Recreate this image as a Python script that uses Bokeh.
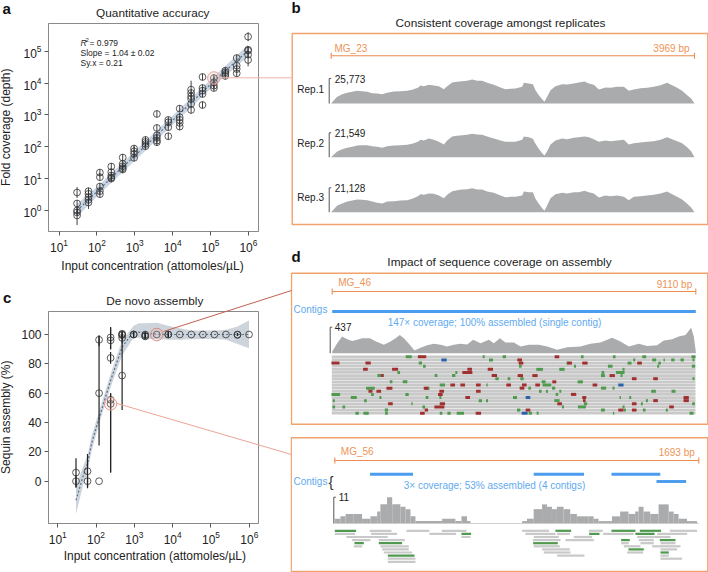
from math import log10, pi
from bokeh.plotting import figure
from bokeh.embed import file_html
from bokeh.resources import INLINE
from bokeh.layouts import row, column
from bokeh.models import Range1d, FixedTicker, Label
from bokeh.core.properties import value

FONT = "Liberation Sans"
CONC = [30, 60, 120, 240, 480, 960, 1920, 3840, 7680, 15360, 30720, 61440, 122880, 245760, 491520, 983040]
X_DECADES = [10, 100, 1000, 10000, 100000, 1000000]

# panel a
a_depth = [[3.67, 1.66, 1.0, 0.87, 0.70], [4.04, 3.33, 2.62, 2.16, 1.78], [15.5, 11.1, 5.65, 4.04, 3.25],
           [24, 16, 12.5, 10.8, 10], [46, 29, 24.5, 21.2, 19.3], [88, 72, 60, 45], [164, 142, 123, 104],
           [1070, 390, 230, 190, 156, 139], [695, 588, 410, 214], [1575, 843, 695, 560, 430],
           [6210, 4885, 3840, 3165, 2207, 1430], [15500, 7000, 5780, 4540, 2050], [14400, 10550, 8300, 7000],
           [24500, 21700, 19200, 16700], [61000, 35100, 27600, 20200], [285000, 111000, 104000, 78000, 53000]]
a_err = [[.17, .11, .11, .11, .3], [.11, .11, .11, .11, .2], [.11, .11, .11, .11, .11],
         [.11, .11, .11, .11, .11], [.11, .11, .11, .11, .11], [.11, .16, .11, .11], [.11, .11, .11, .11],
         [.11, .11, .11, .11, .11, .11], [.11, .11, .11, .11], [.11, .11, .11, .11, .11],
         [.28, .11, .11, .11, .11, .11], [.11, .11, .11, .11, .11], [.11, .18, .11, .11],
         [.11, .11, .11, .11], [.11, .11, .11, .11], [.14, .11, .11, .11, .2]]
a_band_x = [30, 120, 480, 7680, 122880, 983040]
a_mid = [1, 4.8, 23, 500, 11500, 105000]
a_low = [0.62, 3.4, 16, 360, 8200, 68000]
a_up = [1.6, 6.7, 32, 700, 16000, 160000]
a_hl = [122880, 14400]

# panel c
c_pct = [[5.9, 0], [6.8, 0], [96.4, 60, 0], [98, 96, 84, 55.5, 52.7], [100.5, 100, 99.6, 97.7, 72], [100, 100],
         [100, 99, 98.7], [100], [100, 100], [100], [100], [100], [100], [100], [100, 99.7], [100]]
c_lo = [[-4.5, -4], [-4.8, -4], [92, 24.3, 0], [90, 90, 80, 6, 6], [97, 97, 97, 94, 48.6], [98, 98],
        [97, 97, 97], [100], [98, 98], [100], [100], [100], [100], [100], [99, 99], [100]]
c_hi = [[15.7, 4], [18.6, 4], [99.3, 99.3, 0], [105, 105, 88, 60, 60], [102, 102, 102, 100, 100], [102, 102],
        [102, 102, 101], [100], [102, 102], [100], [100], [100], [100], [100], [101, 101], [100]]
c_band_x = [30, 47, 60, 77, 120, 240, 480, 960, 1300, 1920, 3840, 7680, 15360, 30720, 61440, 122880, 245760, 491520, 983040]
c_mid = [-13, 4.3, 12, 26, 43, 68.6, 91.4, 102, 101.6, 101, 100.2, 100, 100, 100, 100, 100, 100, 100, 100]
c_low = [-22.3, -1.8, 6, 21, 39, 64, 85.7, 98, 97.7, 97, 97, 96.4, 96.4, 96.8, 97, 97, 96.4, 93.6, 90.7]
c_up = [-3, 10.7, 17.5, 31, 47.5, 73, 96, 106, 107.7, 107.7, 108, 106, 104.3, 102.7, 102.7, 102.7, 103.2, 105.5, 109.5]
c_hl_full = [3840, 100]
c_hl_part = [240, 52.7]

# panel b
b_bp = [0, 29, 66, 120, 175, 229, 284, 339, 393, 448, 502, 557, 612, 685, 757, 830, 885, 947, 976, 1012,
        1067, 1121, 1176, 1231, 1267, 1322, 1376, 1431, 1486, 1540, 1595, 1649, 1704, 1777, 1850, 1904, 1959, 2013, 2086, 2105,
        2159, 2203, 2232, 2268, 2305, 2330, 2359, 2396, 2450, 2523, 2578, 2651, 2705, 2767, 2815, 2869, 2924, 2997, 3051, 3124,
        3197, 3251, 3306, 3379, 3452, 3524, 3597, 3670, 3725, 3779, 3834, 3889, 3932, 3969]
rep1 = [0, 3440, 6870, 9620, 11000, 12030, 13060, 12710, 12030, 10650, 10310, 9620, 11000, 12370, 12710, 13060, 14090, 16150, 18550, 17870,
        19240, 18550, 17870, 14770, 17870, 21650, 22330, 23020, 23360, 24740, 23360, 23360, 21300, 19240, 16490, 14770, 15120, 15460, 17180, 21300,
        20620, 19930, 13740, 8590, 4470, 1720, 6870, 13740, 17870, 19930, 19590, 20620, 21650, 22680, 20620, 19240, 14430, 16490, 16150, 17180,
        17180, 13060, 14430, 15810, 16150, 17180, 18900, 21300, 18900, 16150, 13060, 8590, 5150, 0]
rep2 = [0, 2360, 5020, 7080, 8260, 9150, 10330, 10620, 10620, 9740, 9150, 8260, 9740, 10330, 10620, 10920, 11800, 13570, 15340, 14750,
        16520, 15340, 13570, 11210, 14750, 18290, 18880, 19470, 19770, 20650, 20060, 19770, 18290, 16520, 14750, 13570, 13570, 13570, 15340, 18290,
        17700, 16230, 11800, 7380, 3540, 1480, 5310, 11210, 14750, 16520, 15930, 17110, 17700, 18290, 17700, 15930, 13570, 14750, 14160, 14750,
        15340, 11210, 12390, 12980, 13570, 14160, 15340, 17700, 15930, 14160, 12390, 8850, 5310, 0]
rep3 = [0, 2600, 5780, 7510, 9250, 10120, 10980, 10690, 10400, 9250, 8090, 7510, 9250, 9540, 10120, 10400, 11560, 13870, 15610, 15030,
        16180, 15900, 14450, 12140, 15030, 18210, 19070, 19650, 19940, 20810, 19650, 19650, 17920, 16760, 14450, 13010, 13290, 13290, 14450, 17920,
        17340, 17340, 11560, 7230, 3470, 1160, 5780, 12140, 15610, 16760, 16180, 17340, 17340, 18500, 17340, 16180, 12720, 14450, 13870, 14450,
        13290, 10400, 13290, 13870, 14450, 15030, 16180, 17920, 15610, 13290, 10980, 7230, 4050, 0]
rep_labels = ["Rep.1", "Rep.2", "Rep.3"]
rep_peaks = [25773, 21549, 21128]
rep_peak_text = ["25,773", "21,549", "21,128"]

# panel d, MG_46
d1_bp = [0, 125, 250, 376, 501, 626, 751, 944, 1086, 1294, 1461, 1587, 1695, 1795, 1921, 2062, 2213, 2380, 2547, 2714,
         2881, 3048, 3215, 3382, 3532, 3716, 3925, 4050, 4200, 4342, 4551, 4718, 4927, 5177, 5386, 5636, 5887, 6221, 6471, 6722,
         7014, 7223, 7432, 7682, 7891, 8141, 8308, 8517, 8684, 8851, 8993, 9060, 9110]
d1_depth = [28, 168, 280, 235, 207, 224, 252, 252, 202, 140, 196, 252, 308, 252, 157, 45, 90, 134, 157, 140,
            112, 140, 157, 146, 224, 168, 224, 168, 252, 179, 179, 112, 140, 140, 112, 56, 101, 112, 157, 179,
            258, 196, 112, 157, 123, 134, 213, 235, 280, 308, 426, 280, 28]
d1_rows = list(range(19))
d1_red = [(425, 0, 25), (165, 2, 24), (263, 2, 16), (255, 4, 14), (344, 4, 18), (568, 4, 14), (561, 5, 30), (630, 4, 16), (718, 1, 14), (722, 2, 14),
          (830, 0, 14), (868, 2, 14), (914, 2, 16), (1078, 2, 14), (642, 6, 16), (720, 6, 16), (764, 6, 16), (996, 6, 16), (306, 6, 8), (1062, 7, 14),
          (1126, 7, 14), (327, 10, 18), (437, 10, 14), (517, 9, 14), (547, 9, 14), (594, 9, 14), (685, 9, 14), (732, 9, 14), (772, 9, 14), (822, 8, 12),
          (944, 9, 14), (725, 10, 14), (270, 11, 12), (295, 11, 14), (484, 11, 14), (594, 11, 14), (480, 12, 14), (880, 12, 16), (562, 13, 14), (912, 13, 12),
          (838, 15, 14), (1218, 13, 16), (1218, 14, 16), (486, 15, 16), (477, 16, 30), (330, 15, 14), (1062, 15, 14), (1174, 16, 14), (912, 14, 8), (1022, 17, 16),
          (1062, 17, 14), (743, 17, 14), (438, 17, 10), (426, 18, 14), (594, 18, 16), (1126, 14, 14)]
d1_green = [(385, 0, 18), (610, 0, 6), (632, 1, 12), (672, 0, 10), (906, 0, 8), (1002, 0, 8), (1092, 0, 12), (1240, 0, 12), (1122, 1, 12), (1178, 1, 10),
            (1206, 1, 10), (1240, 1, 6), (1062, 1, 6), (1152, 1, 4), (720, 3, 8), (862, 2, 6), (420, 2, 10), (432, 3, 8), (1138, 2, 8), (1048, 2, 12),
            (990, 3, 14), (1134, 3, 6), (1240, 3, 10), (778, 4, 20), (845, 4, 16), (884, 3, 6), (968, 5, 8), (968, 6, 12), (1020, 5, 26), (1030, 4, 6),
            (1024, 6, 6), (297, 6, 12), (355, 5, 8), (467, 6, 8), (528, 5, 6), (520, 6, 10), (650, 7, 10), (686, 7, 8), (725, 7, 10), (790, 8, 12),
            (900, 8, 16), (820, 10, 10), (800, 9, 26), (748, 10, 8), (374, 8, 14), (486, 9, 16), (332, 8, 8), (440, 10, 14), (270, 10, 26), (380, 12, 10),
            (166, 12, 26), (220, 13, 18), (276, 12, 8), (300, 13, 6), (440, 13, 8), (480, 13, 6), (620, 9, 4), (704, 13, 12), (780, 11, 8), (800, 11, 6),
            (830, 12, 8), (840, 11, 6), (970, 10, 16), (1000, 10, 6), (1120, 11, 14), (1180, 11, 12), (1240, 7, 6), (1020, 13, 4), (1050, 13, 6), (830, 14, 16),
            (160, 14, 6), (255, 14, 8), (395, 15, 4), (430, 16, 8), (160, 16, 8), (190, 16, 8), (600, 14, 10), (620, 14, 6), (905, 16, 24), (916, 15, 10),
            (1100, 14, 6), (1085, 15, 6), (1030, 16, 6), (1240, 15, 8), (230, 18, 10), (257, 18, 16), (318, 17, 10), (318, 18, 8), (482, 18, 8), (506, 18, 10),
            (540, 18, 22), (715, 17, 10), (750, 18, 10), (772, 18, 6), (968, 17, 12), (1000, 18, 4), (1034, 17, 6), (1092, 17, 8), (1234, 18, 12), (1160, 17, 6),
            (848, 16, 6)]
d1_blue = [(491, 1, 16), (743, 13, 14), (1022, 9, 16), (733, 18, 18)]

# panel d, MG_56
d2_edges = [0, 26, 50, 88, 127, 166, 197, 212, 243, 267, 305, 329, 352, 375, 499, 561, 589, 615, 631, 871, 894, 925, 964,
            987, 1010, 1033, 1064, 1095, 1126, 1181, 1204, 1227, 1247, 1289, 1327, 1366, 1397, 1413, 1436, 1467, 1506, 1553, 1576, 1599, 1638, 1685]
d2_depth = [2, 3, 4, 4, 2, 3, 5, 8, 11, 8, 7, 6, 3, 1, 2, 1, 3, 1, 0, 1, 2, 6, 8, 7, 6, 7, 6, 4, 3, 3, 2, 1, 1, 3, 5, 4, 5, 7, 5, 4, 8, 5, 4, 2, 1]
d2_contig_start = [164, 925, 1287, 1496]
d2_contig_end = [364, 1159, 1514, 1634]
d2_contig_row = [0, 0, 0, 1]
d2_grey = [(163, 224, 1), (198, 280, 2), (215, 270, 3), (220, 245, 5), (268, 333, 0), (272, 350, 1), (280, 322, 2), (295, 373, 3), (300, 385, 5), (305, 385, 6),
           (310, 395, 7), (322, 405, 9), (322, 405, 10), (378, 447, 0), (447, 527, 1), (484, 558, 0), (543, 570, 2), (725, 806, 0), (735, 825, 1), (760, 835, 2),
           (757, 840, 3), (760, 838, 5), (785, 868, 6), (790, 870, 7), (830, 912, 8), (830, 868, 1), (855, 940, 3), (880, 935, 2), (925, 967, 0), (968, 1060, 1),
           (1022, 1045, 4), (1030, 1080, 5), (1040, 1088, 7), (1065, 1122, 1), (1070, 1120, 2), (1075, 1120, 3), (1080, 1120, 4), (1115, 1200, 5), (1168, 1250, 0),
           (1130, 1220, 1), (1140, 1185, 4), (1140, 1165, 8), (1140, 1205, 9), (1120, 1170, 2), (1140, 1190, 6)]
d2_green = [(163, 227, 0), (222, 250, 4), (295, 365, 4), (322, 402, 8), (543, 572, 1), (758, 832, 4), (825, 872, 0), (926, 957, 1), (993, 1065, 0),
            (1022, 1048, 3), (1044, 1090, 6), (1078, 1142, 0), (1065, 1122, 1), (1138, 1185, 3), (1140, 1165, 7)]

GREY_TEXT = "#222222"
ORANGE_BOX = "#f2a26c"
ORANGE = "#ec8b4f"
ORANGE_TEXT = "#ee9356"
BLUE = "#4a9cf0"
BLUE_TEXT = "#62aaf0"
COV = "#a9abac"
READ = "#c9c9c9"
GREEN = "#4f9a4f"
RED = "#a03030"
MMBLUE = "#2a62a8"


def frange(a, pa, b, pb, lo, hi, log=False):
    f = log10 if log else (lambda v: v)
    g = (lambda v: 10 ** v) if log else (lambda v: v)
    s = (f(b) - f(a)) / (pb - pa)
    return Range1d(start=g(f(a) + (lo - pa) * s), end=g(f(a) + (hi - pa) * s))


def style(p):
    p.outline_line_color = "#8a8a8a"
    p.outline_line_width = 1
    p.grid.visible = False
    for ax in (p.xaxis[0], p.yaxis[0]):
        ax.axis_line_color = "#8a8a8a"
        ax.major_tick_line_color = "#555555"
        ax.major_tick_out = 4
        ax.major_tick_in = 0
        ax.minor_tick_line_color = None
        ax.major_label_text_font = FONT
        ax.major_label_text_font_size = "12px"
        ax.major_label_text_color = GREY_TEXT
        ax.major_label_standoff = 3


def plabel(p, fl, fb, X, Y, text, size="12px", color=GREY_TEXT, fstyle="normal", align="left"):
    p.add_layout(Label(x=X - fl, y=fb - Y, x_units="screen", y_units="screen", text=text, text_font=FONT,
                       text_font_size=size, text_color=color, text_font_style=fstyle,
                       text_align=align, text_baseline="middle"))


def flat(xs, nested):
    return [x for x, col in zip(xs, nested) for _ in col], [v for col in nested for v in col]


# ---------- a ----------
fa = figure(width=290, height=275, output_backend="svg", toolbar_location=None,
            x_axis_type="log", y_axis_type="log",
            min_border_left=44, min_border_right=32, min_border_top=23, min_border_bottom=44,
            x_range=frange(10, 54.7, 1e6, 247.7, 44, 258, log=True),
            y_range=frange(1, 210, 1e5, 50.7, 231, 23, log=True))
style(fa)
fa.xaxis.ticker = FixedTicker(ticks=X_DECADES)
fa.yaxis.ticker = FixedTicker(ticks=[1, 10, 100, 1000, 10000, 100000])
fa.varea(a_band_x, a_low, a_up, fill_color="#c3cfde", fill_alpha=0.85)
fa.line(a_band_x, a_mid, line_color="#54708f", line_dash="2 2", line_width=1.2)
xs, ys = flat(CONC, a_depth)
_, es = flat(CONC, a_err)
fa.segment(xs, [y / 10 ** e for y, e in zip(ys, es)], xs, [y * 10 ** e for y, e in zip(ys, es)],
           line_color="#2a2a2a", line_width=0.9)
fa.scatter(xs, ys, marker="circle", size=6.8, fill_color=None, line_color="#333333", line_width=0.8)
fa.scatter([a_hl[0]], [a_hl[1]], marker="circle", size=12.5, fill_color="#f2b8b0", fill_alpha=0.2,
           line_color="#e69c94", line_width=1)
plabel(fa, 44, 231, 76, 42, "R", "8.5px", GREY_TEXT, "italic")
plabel(fa, 44, 231, 81, 39.5, "2", "6px")
plabel(fa, 44, 231, 85, 42, "= 0.979", "8.5px")
plabel(fa, 44, 231, 76, 52, "Slope = 1.04 ± 0.02", "8.5px")
plabel(fa, 44, 231, 76, 62, "Sy.x = 0.21", "8.5px")

# ---------- c ----------
# canvas of c starts at page y 275
fc = figure(width=290, height=297, output_backend="svg", toolbar_location=None,
            x_axis_type="log",
            min_border_left=48, min_border_right=30, min_border_top=36, min_border_bottom=49,
            x_range=frange(10, 57.3, 1e6, 250.7, 48, 260, log=True),
            y_range=frange(0, 480.7, 100, 334, 523, 311))
style(fc)
fc.xaxis.ticker = FixedTicker(ticks=X_DECADES)
fc.yaxis.ticker = FixedTicker(ticks=[0, 20, 40, 60, 80, 100])
fc.varea(c_band_x, c_low, c_up, fill_color="#c6cdd5", fill_alpha=0.85)
fc.line(c_band_x, c_mid, line_color="#54708f", line_dash="2 2", line_width=1.2)
xs, ys = flat(CONC, c_pct)
_, lo = flat(CONC, c_lo)
_, hi = flat(CONC, c_hi)
fc.segment(xs, lo, xs, hi, line_color="#222222", line_width=1.2)
fc.scatter(xs, ys, marker="circle", size=6.8, fill_color=None, line_color="#333333", line_width=0.8)
fc.scatter([c_hl_full[0]], [c_hl_full[1]], marker="circle", size=12.5, fill_color="#f2b8b0", fill_alpha=0.2,
           line_color="#d98a80", line_width=1)
fc.scatter([c_hl_part[0]], [c_hl_part[1]], marker="circle", size=12.5, fill_color="#f2b8b0", fill_alpha=0.2,
           line_color="#e69c94", line_width=1)

# ---------- right column: canvas is page x 290..708, y 0..572 ----------
XL, XR, YT, YB = 290, 708, 0, 572
fr = figure(width=XR - XL, height=YB - YT, output_backend="svg", toolbar_location=None,
            x_range=Range1d(XL, XR), y_range=Range1d(YB, YT),
            x_axis_location=None, y_axis_location=None,
            min_border=0, min_border_left=0, min_border_right=0, min_border_top=0, min_border_bottom=0,
            outline_line_color=None)
fr.grid.visible = False


def xr(name, a, pa, b, pb):
    fr.extra_x_ranges[name] = frange(a, pa, b, pb, XL, XR)


def yr(name, a, pa, b, pb):
    fr.extra_y_ranges[name] = frange(a, pa, b, pb, YB, YT)


def txt(X, Y, t, size="10px", color=GREY_TEXT, align="left", fstyle="normal", fig=None, angle=0):
    (fig or fr).text([X], [Y], text=[t], text_font=value(FONT), text_font_size=size, text_color=color,
                     text_align=align, text_baseline="middle", text_font_style=fstyle, angle=angle)


def box(x0, y0, x1, y1):
    fr.quad(left=[x0], right=[x1], top=[y0], bottom=[y1], fill_color=None,
            line_color=ORANGE_BOX, line_width=1.4)


def ruler(x0, x1, y):
    fr.segment([x0, x0, x1], [y, y - 3, y - 3], [x1, x0, x1], [y, y + 3, y + 3], line_color=ORANGE, line_width=1.1)


def bracket(x, y_name, top):
    fr.segment([x, x], [0, top], [x, x + 2], [top, top], y_range_name=y_name, line_color="#555555", line_width=1)


def marks(items, color, xname, yname):
    fr.quad(left=[b - w / 2 for b, r, w in items], right=[b + w / 2 for b, r, w in items],
            bottom=[r - .48 for b, r, w in items], top=[r + .48 for b, r, w in items],
            x_range_name=xname, y_range_name=yname, fill_color=color, line_color=None)


def reads(items, color, xname, yname):
    fr.quad(left=[a for a, b, r in items], right=[b for a, b, r in items],
            bottom=[r - .36 for a, b, r in items], top=[r + .36 for a, b, r in items],
            x_range_name=xname, y_range_name=yname, fill_color=color, line_color=None)


# b
txt(500, 22, "Consistent coverage amongst replicates", "11.8px", align="center")
box(291.7, 33, 707.3, 224)
ruler(330.7, 694, 55.3)
txt(334, 47.7, "MG_23", "10px", ORANGE_TEXT)
txt(689, 47.7, "3969 bp", "10px", ORANGE_TEXT, "right")
xr("b", 0, 330.7, 3969, 694)
for name, depth, peak, ptxt, lab, base, ptop, laby in zip(
        ["r1", "r2", "r3"], [rep1, rep2, rep3], rep_peaks, rep_peak_text, rep_labels,
        [103, 156.7, 211.7], [78, 132.3, 187.3], [89.3, 143.3, 196.7]):
    yr(name, 0, base, peak, ptop)
    fr.varea(b_bp, [0] * len(b_bp), depth, x_range_name="b", y_range_name=name, fill_color=COV)
    bracket(328.7, name, peak)
    txt(334.3, ptop, ptxt)
    txt(323.5, laby, lab, align="right")

# d title
txt(499, 261.7, "Impact of sequence coverage on assembly", "11.8px", align="center")

# d top
box(291, 272.7, 707.3, 423.7)
ruler(331.7, 695.3, 291)
txt(337.7, 282, "MG_46", "10px", ORANGE_TEXT)
txt(691.7, 284, "9110 bp", "10px", ORANGE_TEXT, "right")
txt(293, 309.3, "Contigs", "10px", BLUE_TEXT)
xr("d1", 0, 331.7, 9110, 695.3)
yr("t1", 0, 352.7, 437, 326.7)
fr.rect(x=[4555], y=[311], width=[9110], height=[3], x_range_name="d1", fill_color=BLUE, line_color=None)
txt(494, 322.3, "147× coverage; 100% assembled (single contig)", "10px", BLUE_TEXT, "center")
fr.varea(d1_bp, [0] * len(d1_bp), d1_depth, x_range_name="d1", y_range_name="t1", fill_color=COV)
bracket(329.7, "t1", 437)
txt(334.3, 326, "437", "10px")
xr("p1", 154, 331.3, 1246, 695)
yr("q1", 0, 356.3, 18, 412.7)
fr.quad(left=[154] * 19, right=[1246] * 19, bottom=[r - .44 for r in d1_rows], top=[r + .44 for r in d1_rows],
        x_range_name="p1", y_range_name="q1", fill_color=READ, line_color=None)
marks(d1_green, GREEN, "p1", "q1")
marks(d1_red, RED, "p1", "q1")
marks(d1_blue, MMBLUE, "p1", "q1")

# d bottom
box(290.7, 437.3, 707.3, 571)
ruler(334.3, 698.3, 460)
txt(340.3, 450.7, "MG_56", "10px", ORANGE_TEXT)
txt(694.3, 452, "1693 bp", "10px", ORANGE_TEXT, "right")
txt(293, 480.7, "Contigs", "10px", BLUE_TEXT)
txt(330.5, 481, "{", "15px", "#333333", "center")
xr("d2", 0, 334.3, 1693, 698.3)
yr("t2", 0, 523, 11, 496.7)
yr("c2", 0, 473.7, 1, 481)
for s, e, r in zip(d2_contig_start, d2_contig_end, d2_contig_row):
    fr.quad(left=[s], right=[e], bottom=[r - .2], top=[r + .2], x_range_name="d2", y_range_name="c2",
            fill_color=BLUE, line_color=None)
txt(494, 485.3, "3× coverage; 53% assembled (4 contigs)", "10px", BLUE_TEXT, "center")
fr.quad(left=d2_edges[:-1], right=d2_edges[1:], bottom=[0] * len(d2_depth), top=d2_depth,
        x_range_name="d2", y_range_name="t2", fill_color=COV, line_color=None)
fr.segment([0], [0], [1693], [0], x_range_name="d2", y_range_name="t2", line_color="#cfcfcf", line_width=1.2)
bracket(333.3, "t2", 11)
txt(338.3, 496.7, "11", "10px")
xr("p2", 163, 334.3, 1255, 698.3)
yr("q2", 0, 530.3, 10, 561.3)
reads(d2_grey, READ, "p2", "q2")
reads(d2_green, GREEN, "p2", "q2")

# ---------- overlay for what crosses panels: letters, leader lines, titles ----------
fo = figure(width=708, height=572, output_backend="svg", toolbar_location=None,
            x_range=Range1d(0, 708), y_range=Range1d(572, 0),
            x_axis_location=None, y_axis_location=None,
            min_border=0, min_border_left=0, min_border_right=0, min_border_top=0, min_border_bottom=0,
            outline_line_color=None, background_fill_color=None, border_fill_color=None,
            margin=(-572, 0, 0, 0))
fo.grid.visible = False
for letter, X, Y in zip(["a", "b", "c", "d"], [2, 291, 2.5, 291], [8, 7, 296.7, 256]):
    txt(X, Y, letter, "15px", "#111111", fstyle="bold", fig=fo)
fo.segment([219.5, 163, 115.5], [77.3, 331, 402.7], [291, 291, 291], [77.3, 290, 454],
           line_color=["#efb2aa", "#c2604f", "#eba596"], line_width=1)
txt(152.3, 12.7, "Quantitative accuracy", "11.8px", align="center", fig=fo)
txt(154.3, 300.7, "De novo assembly", "11.8px", align="center", fig=fo)
txt(152, 265, "Input concentration (attomoles/µL)", "12px", align="center", fig=fo)
txt(154.3, 555.3, "Input concentration (attomoles/µL)", "12px", align="center", fig=fo)
txt(5.7, 126.7, "Fold coverage (depth)", "12px", align="center", fig=fo, angle=pi / 2)
txt(5.7, 416.7, "Sequin assembly (%)", "12px", align="center", fig=fo, angle=pi / 2)

layout = column(row(column(fa, fc, spacing=0), fr, spacing=0), fo, spacing=0)
open("out.html", "w").write(file_html(layout, INLINE))
